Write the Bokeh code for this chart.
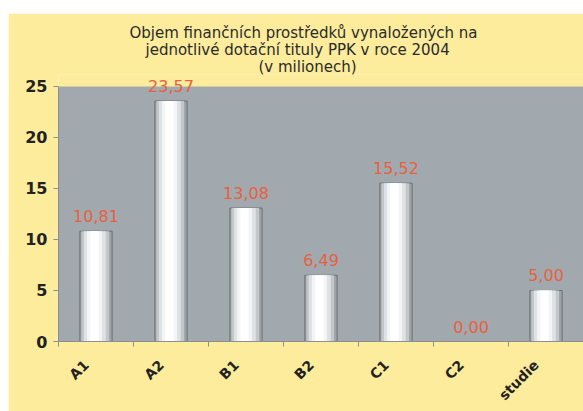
import math
from bokeh.plotting import figure
from bokeh.models import ColumnDataSource, LabelSet, FixedTicker, Range1d, Title
from bokeh.core.properties import value
from bokeh.embed import file_html
from bokeh.resources import INLINE

categories = ["A1", "A2", "B1", "B2", "C1", "C2", "studie"]
values = [10.81, 23.57, 13.08, 6.49, 15.52, 0.00, 5.00]
value_labels = ["10,81", "23,57", "13,08", "6,49", "15,52", "0,00", "5,00"]
y_ticks = [0, 5, 10, 15, 20, 25]
title_lines = ["Objem finančních prostředků vynaložených na",
               "jednotlivé dotační tituly  PPK v roce 2004",
               "(v milionech)"]
title_offsets = [71, 87, 200]   # px from the left of the plot area

n = len(categories)
xs = [i + 0.5 for i in range(n)]
src = ColumnDataSource(dict(x=xs, v=values, lab=value_labels))

YELLOW = "#fcec9c"
p = figure(width=575, height=398, output_backend="svg", toolbar_location=None,
           x_range=Range1d(0, n), y_range=Range1d(0, y_ticks[-1] + 1.17),
           min_border_left=50, min_border_right=0, min_border_top=61, min_border_bottom=68)
p.margin = (13, 0, 0, 8)

for line, off in reversed(list(zip(title_lines, title_offsets))):
    t = Title(text=line, align="left", text_font="DejaVu Sans", text_font_size="15px",
              text_font_style="normal", text_color="#2b2b2b", offset=off, standoff=-3)
    p.add_layout(t, "above")

p.background_fill_color = YELLOW
p.border_fill_color = YELLOW
p.outline_line_color = None
p.xgrid.grid_line_color = None
p.ygrid.grid_line_color = None

# plot-area background only up to the top tick
p.quad(left=0, right=n, bottom=0, top=y_ticks[-1], fill_color="#a1a9ae", line_color=None)

# cylinder-like bars: layered vbars
layers = [(0.43, "#9ea3a7", 0.0), (0.37, "#c3c7ca", -0.01), (0.29, "#dfe2e4", -0.015),
          (0.20, "#f3f4f5", -0.02), (0.11, "#ffffff", -0.02)]
for i, (w, c, dx) in enumerate(layers):
    s = ColumnDataSource(dict(x=[v + dx for v in xs], v=values))
    p.vbar(x="x", top="v", bottom=0, width=w, source=s, fill_color=c,
           line_color="#6a6f73" if i == 0 else None, line_width=1)

labels = LabelSet(x="x", y="v", text="lab", source=src, y_offset=9,
                  text_align="center", text_baseline="bottom",
                  text_color="#e8603f", text_font_size="16px", text_font=value("DejaVu Sans"))
p.add_layout(labels)

label_shift = 0.13
label_pos = [x - label_shift for x in xs]
p.xaxis.ticker = FixedTicker(ticks=label_pos, minor_ticks=list(range(n + 1)))
p.xaxis.major_label_overrides = {x: c for x, c in zip(label_pos, categories)}
p.xaxis.major_label_orientation = math.pi / 4
p.xaxis.major_label_standoff = 16
p.xaxis.major_tick_out = 0
p.xaxis.major_tick_in = 0
p.xaxis.minor_tick_out = 5
p.xaxis.minor_tick_in = 0
p.xaxis.major_label_text_font = "DejaVu Sans"
p.xaxis.major_label_text_font_size = "14px"
p.xaxis.major_label_text_font_style = "bold"
p.xaxis.major_label_text_color = "#222222"

p.yaxis.ticker = FixedTicker(ticks=y_ticks)
p.yaxis.bounds = (y_ticks[0], y_ticks[-1])
p.yaxis.major_tick_out = 5
p.yaxis.major_tick_in = 0
p.yaxis.major_label_standoff = 6
p.yaxis.major_label_text_font = "DejaVu Sans"
p.yaxis.major_label_text_font_size = "16px"
p.yaxis.major_label_text_font_style = "bold"
p.yaxis.major_label_text_color = "#222222"

for ax in (p.xaxis, p.yaxis):
    ax.axis_line_color = "#8a8f93"
    ax.major_tick_line_color = "#8a8f93"
    ax.minor_tick_line_color = "#8a8f93"
p.yaxis.minor_tick_line_color = None

open("out.html", "w").write(file_html(p, INLINE))
